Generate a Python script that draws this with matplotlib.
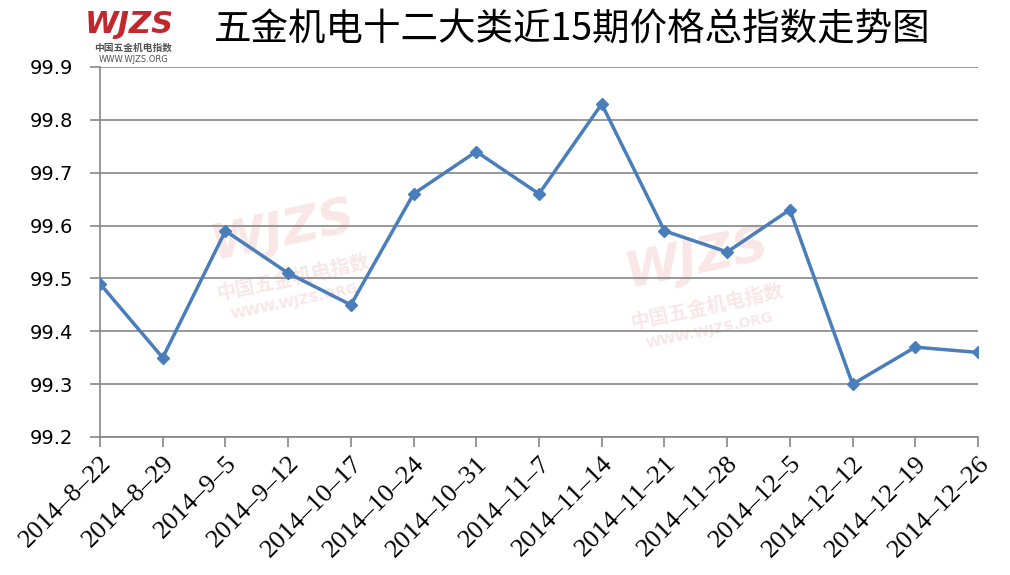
import matplotlib.pyplot as plt

dates = ['2014-8-22', '2014-8-29', '2014-9-5', '2014-9-12', '2014-10-17',
         '2014-10-24', '2014-10-31', '2014-11-7', '2014-11-14', '2014-11-21',
         '2014-11-28', '2014-12-5', '2014-12-12', '2014-12-19', '2014-12-26']
index_values = [99.49, 99.35, 99.59, 99.51, 99.45, 99.66, 99.74, 99.66,
                99.83, 99.59, 99.55, 99.63, 99.30, 99.37, 99.36]
y_ticks = [99.2, 99.3, 99.4, 99.5, 99.6, 99.7, 99.8, 99.9]

TITLE = '五金机电十二大类近15期价格总指数走势图'
CJK = ['Noto Sans CJK SC', 'DejaVu Sans']
WM = '#f9e6e6'

fig = plt.figure(figsize=(10.1, 5.75), dpi=100)
ax = fig.add_axes([100 / 1010, 1 - 437 / 575, 878 / 1010, 370 / 575])
ax.set_zorder(2)

# faint watermarks behind the line
for wx, wy in [(0.28, 0.60), (0.69, 0.55)]:
    fig.text(wx, wy, 'WJZS', color=WM, fontsize=36, fontweight='bold',
             fontstyle='italic', rotation=12, ha='center', va='center', zorder=0)
    fig.text(wx + 0.01, wy - 0.085, '中国五金机电指数', family=CJK, color=WM,
             fontsize=14, fontweight='bold', rotation=12, ha='center', va='center', zorder=0)
    fig.text(wx + 0.012, wy - 0.125, 'WWW.WJZS.ORG', color=WM,
             fontsize=10, fontweight='bold', rotation=12, ha='center', va='center', zorder=0)

ax.patch.set_alpha(0)
x = list(range(len(dates)))
ax.plot(x, index_values, color='#4a7ebb', lw=2.5, marker='D', ms=6, zorder=3)

ax.set_xlim(0, len(dates) - 1)
ax.set_ylim(99.2, 99.9)
ax.set_yticks(y_ticks)
ax.set_yticklabels(['%.1f' % v for v in y_ticks], fontsize=14)
ax.set_xticks(x)
ax.set_xticklabels([d.replace('-', '–') for d in dates], rotation=45, ha='right',
                   rotation_mode='anchor', fontsize=19, family='Liberation Serif')
ax.grid(axis='y', color='#868686', lw=1.2)
ax.set_axisbelow(True)
for side in ['top', 'right']:
    ax.spines[side].set_visible(False)
for side in ['left', 'bottom']:
    ax.spines[side].set_color('#868686')
    ax.spines[side].set_linewidth(1.2)
ax.tick_params(axis='both', color='#868686', length=7, width=1.2)
ax.tick_params(axis='y', pad=12)
ax.tick_params(axis='x', pad=4)

fig.text(0.567, 0.948, TITLE, family=CJK, fontsize=27, ha='center', va='center')

# logo in top left
fig.text(0.128, 0.958, 'WJZS', color='#c0282d', fontsize=22, fontweight='bold',
         fontstyle='italic', ha='center', va='center')
fig.text(0.132, 0.916, '中国五金机电指数', family=CJK, color='#555555', fontsize=7,
         fontweight='bold', ha='center', va='center')
fig.text(0.132, 0.897, 'WWW.WJZS.ORG', color='#555555', fontsize=6,
         ha='center', va='center')

fig.savefig('out.png', dpi=100)
